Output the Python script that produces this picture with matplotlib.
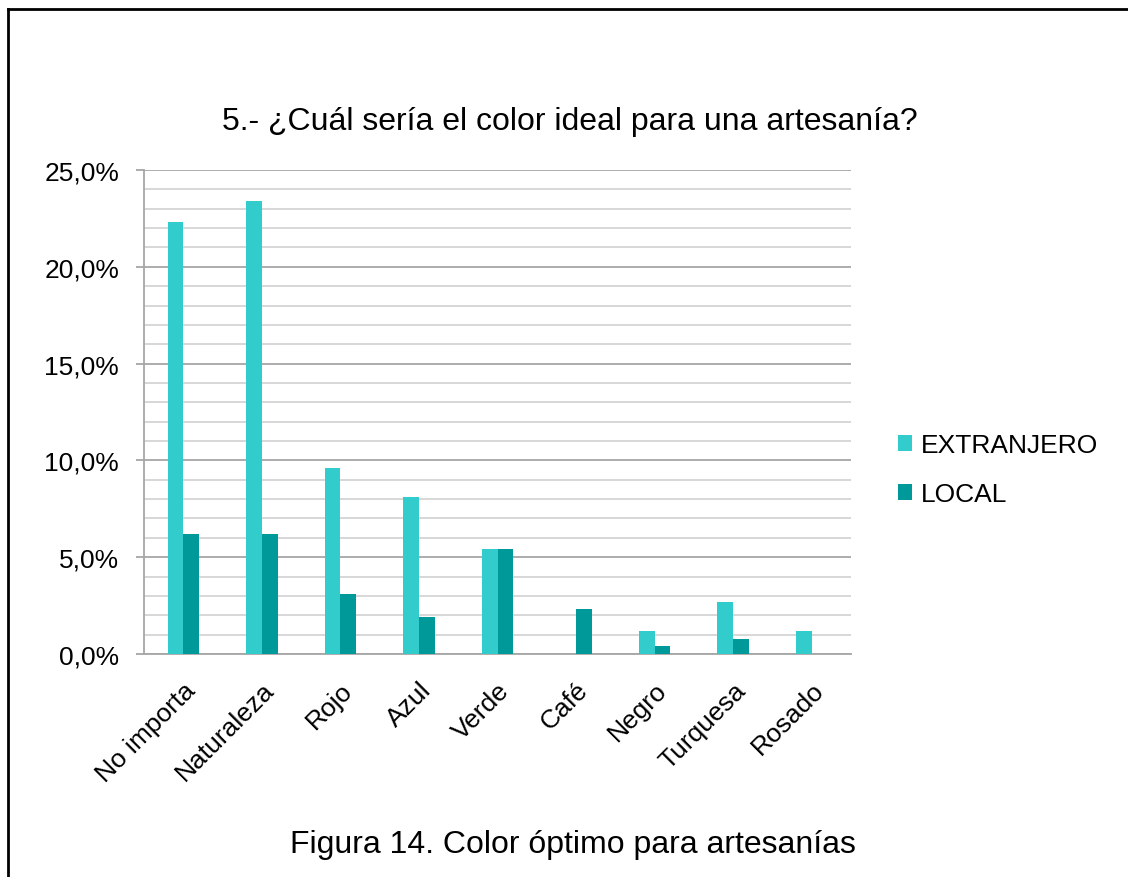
import matplotlib.pyplot as plt
import numpy as np
from matplotlib.lines import Line2D
from matplotlib.ticker import MultipleLocator, FuncFormatter

plt.rcParams['font.family'] = ['Liberation Sans', 'DejaVu Sans']

# dati (percentuali)
categorie = ["No importa", "Naturaleza", "Rojo", "Azul", "Verde", "Café", "Negro", "Turquesa", "Rosado"]
extranjero = [22.3, 23.4, 9.6, 8.1, 5.4, 0.0, 1.2, 2.7, 1.2]
local = [6.2, 6.2, 3.1, 1.9, 5.4, 2.3, 0.4, 0.8, 0.0]

col_ext = "#33CCCC"
col_loc = "#009999"

fig = plt.figure(figsize=(11.28, 8.78), dpi=100)
ax = fig.add_axes([0.1277, 0.254, 0.6267, 0.5512])

x = np.arange(len(categorie))
w = 0.2
ax.bar(x - w/2, extranjero, w, color=col_ext, label="EXTRANJERO", zorder=3)
ax.bar(x + w/2, local, w, color=col_loc, label="LOCAL", zorder=3)

ax.set_xlim(-0.5, len(categorie) - 0.5)
ax.set_ylim(0, 25)
ax.yaxis.set_major_locator(MultipleLocator(5))
ax.yaxis.set_minor_locator(MultipleLocator(1))
ax.yaxis.set_major_formatter(FuncFormatter(lambda v, p: f"{v:.1f}%".replace(".", ",")))
ax.grid(axis="y", which="major", color="#a6a6a6", linewidth=1.3, zorder=0)
ax.grid(axis="y", which="minor", color="#d4d4d4", linewidth=1.3, zorder=0)

for s in ["top", "right"]:
    ax.spines[s].set_visible(False)
for s in ["left", "bottom"]:
    ax.spines[s].set_color("#a6a6a6")
    ax.spines[s].set_linewidth(1.3)

ax.tick_params(axis="y", which="major", length=6, width=1.3, color="#a6a6a6",
               labelsize=19, pad=12)
ax.tick_params(axis="y", which="minor", length=0)
ax.tick_params(axis="x", length=0, pad=17)
ax.set_xticks(x)
ax.set_xticklabels(categorie, rotation=45, ha="right", rotation_mode="anchor", fontsize=19)

fig.text(0.505, 0.861, "5.- ¿Cuál sería el color ideal para una artesanía?",
         ha="center", va="center", fontsize=23)

fig.legend(loc="center left", bbox_to_anchor=(0.775, 0.4636), frameon=False, fontsize=19,
           handlelength=0.55, handleheight=0.55, handletextpad=0.3, labelspacing=0.95)

fig.text(0.508, 0.038, "Figura 14. Color óptimo para artesanías", ha="center", va="center", fontsize=23)

# cornice
fig.add_artist(Line2D([8/1128, 8/1128], [0, 1 - 10/878], color="black", linewidth=2))
fig.add_artist(Line2D([8/1128, 1], [1 - 10/878, 1 - 10/878], color="black", linewidth=2))

fig.savefig("out.png", dpi=100)
